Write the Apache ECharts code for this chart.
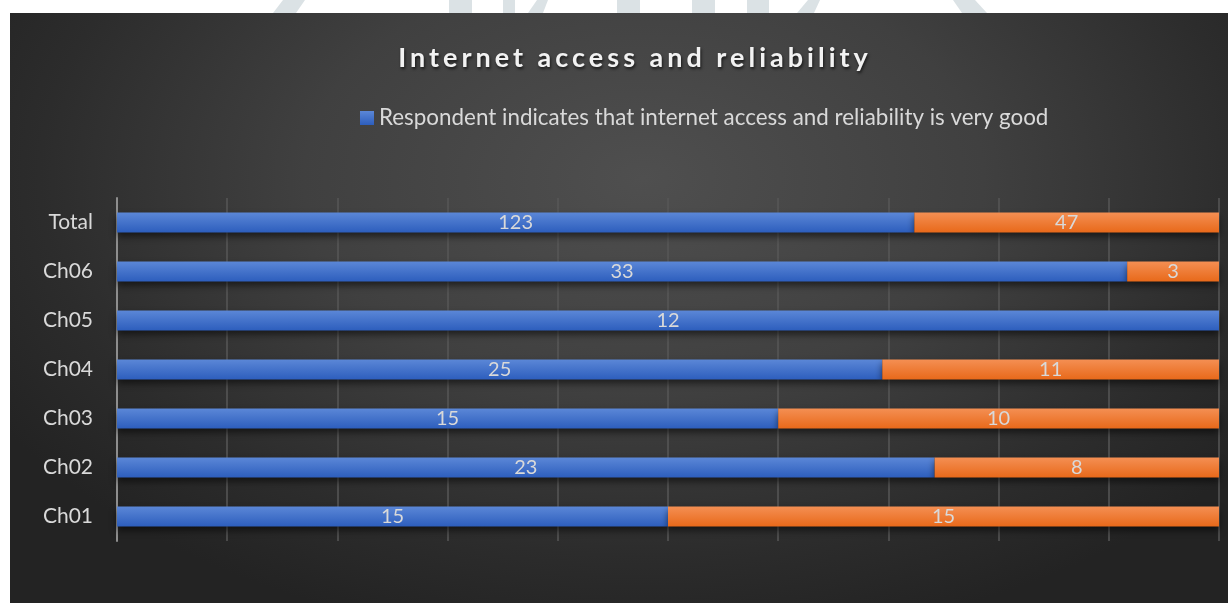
<!DOCTYPE html>
<html>
<head>
<meta charset="utf-8">
<script src="https://cdn.jsdelivr.net/npm/echarts@6/dist/echarts.min.js"></script>
<style>
  html, body { margin: 0; padding: 0; background: #ffffff; }
  #wrap { position: relative; width: 1228px; height: 603px; overflow: hidden; }
  #bg {
    position: absolute; left: 10px; top: 13px; width: 1218px; height: 590px;
    background: radial-gradient(ellipse 62% 80% at 52% 28%, #4f4f4f 0%, #404040 45%, #2c2c2c 80%, #232323 100%);
  }
  #chart { position: absolute; left: 0; top: 0; width: 1228px; height: 603px; }
  #title {
    position: absolute; left: 0; top: 40px; width: 1270px; text-align: center;
    font-family: Lato, "Open Sans", sans-serif; font-weight: bold; font-size: 27px;
    letter-spacing: 4px; color: #f2f2f2;
    text-shadow: 1px 2px 3px rgba(0,0,0,0.65);
  }
</style>
</head>
<body>
<div id="wrap">
  <div id="bg"></div>
  <div id="chart"></div>
  <div id="title">Internet access and reliability</div>
</div>
<script>
// Channels, bottom to top on the category axis
const categories = ['Ch01', 'Ch02', 'Ch03', 'Ch04', 'Ch05', 'Ch06', 'Total'];
// Counts of respondents rating access as very good
const veryGood = [15, 23, 15, 25, 12, 33, 123];
// Counts of all other respondents
const otherResponses = [15, 8, 10, 11, 0, 3, 47];

const seriesNames = [
  'Respondent indicates that internet access and reliability is very good',
  'Other responses'
];

// 100% stacked shares, labels keep the raw counts
const totals = categories.map((_, i) => veryGood[i] + otherResponses[i]);
const share = (arr) => arr.map((v, i) => ({ value: v / totals[i] * 100, count: v }));

const textColor = '#d9d9d9';
const fontFamily = 'Lato, "Open Sans", sans-serif';

function barGradient(top, bottom) {
  return new echarts.graphic.LinearGradient(0, 0, 0, 1, [
    { offset: 0, color: top },
    { offset: 1, color: bottom }
  ]);
}

const barLabel = {
  show: true,
  position: 'inside',
  color: textColor,
  fontFamily: fontFamily,
  fontSize: 20,
  formatter: (p) => (p.data.count ? String(p.data.count) : '')
};

const chart = echarts.init(document.getElementById('chart'), null, { renderer: 'canvas' });

// Faint lettering along the white strip above the panel
const wm = '#dbe2e5';
const watermark = [
  { type: 'polygon', shape: { points: [[283, 0], [305, 0], [296, 13], [273, 13]] } },
  { type: 'rect', shape: { x: 449, y: 0, width: 23, height: 13 } },
  { type: 'polygon', shape: { points: [[503, 0], [515, 0], [515, 13], [503, 13]] } },
  { type: 'polygon', shape: { points: [[537, 0], [548, 0], [543, 13], [528, 13]] } },
  { type: 'rect', shape: { x: 617, y: 0, width: 23, height: 13 } },
  { type: 'rect', shape: { x: 692, y: 0, width: 23, height: 13 } },
  { type: 'rect', shape: { x: 747, y: 0, width: 22, height: 13 } },
  { type: 'polygon', shape: { points: [[808, 0], [820, 0], [814, 13], [797, 13]] } },
  { type: 'polygon', shape: { points: [[953, 0], [975, 0], [987, 13], [962, 13]] } }
].map((g) => Object.assign(g, { style: { fill: wm }, silent: true, z: -1 }));

chart.setOption({
  backgroundColor: 'transparent',
  animation: false,
  graphic: watermark,
  legend: {
    show: true,
    data: [seriesNames[0]],
    left: 355,
    top: 102,
    icon: 'rect',
    itemWidth: 14,
    itemHeight: 14,
    itemGap: 5,
    textStyle: { color: textColor, fontFamily: fontFamily, fontSize: 22.4 }
  },
  grid: { left: 117, right: 9, top: 198, bottom: 62, containLabel: false },
  xAxis: {
    type: 'value',
    min: 0,
    max: 100,
    interval: 10,
    axisLine: { show: false },
    axisTick: { show: false },
    axisLabel: { show: false },
    splitLine: { show: true, lineStyle: { color: '#575757', width: 1.5 } }
  },
  yAxis: {
    type: 'category',
    data: categories,
    axisLine: { show: true, lineStyle: { color: '#8e8e8e', width: 2 } },
    axisTick: { show: false },
    axisLabel: { color: textColor, fontFamily: fontFamily, fontSize: 21, margin: 24 }
  },
  series: [
    {
      name: seriesNames[0],
      type: 'bar',
      stack: 'share',
      barWidth: 20,
      data: share(veryGood),
      itemStyle: {
        color: barGradient('#5b87d7', '#2d5ebd'),
        shadowColor: 'rgba(0,0,0,0.55)',
        shadowBlur: 7,
        shadowOffsetY: 4
      },
      label: barLabel
    },
    {
      name: seriesNames[1],
      type: 'bar',
      stack: 'share',
      barWidth: 20,
      data: share(otherResponses),
      itemStyle: {
        color: barGradient('#f48f53', '#e8691a'),
        shadowColor: 'rgba(0,0,0,0.55)',
        shadowBlur: 7,
        shadowOffsetY: 4
      },
      label: barLabel
    }
  ]
});
</script>
</body>
</html>
